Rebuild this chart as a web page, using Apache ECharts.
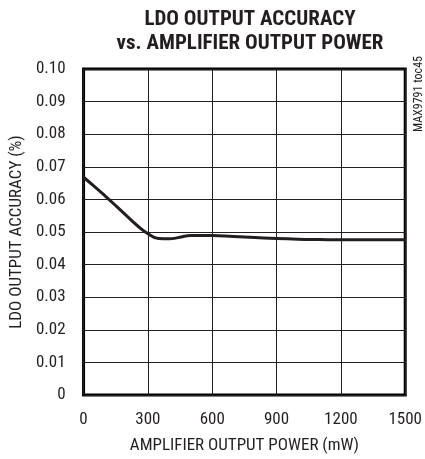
<!DOCTYPE html>
<html>
<head>
<meta charset="utf-8">
<script src="https://cdn.jsdelivr.net/npm/echarts@6/dist/echarts.min.js"></script>
<style>
html,body{margin:0;padding:0;background:#fff;}
#chart{width:425px;height:459px;}
</style>
</head>
<body>
<div id="chart"></div>
<script>
const titleLines = ["LDO OUTPUT ACCURACY", "vs. AMPLIFIER OUTPUT POWER"];
const xAxisName = "AMPLIFIER OUTPUT POWER (mW)";
const yAxisName = "LDO OUTPUT ACCURACY (%)";
const sideNote = "MAX9791 toc45";
const powerMW = [0, 50, 100, 150, 200, 250, 300, 350, 400, 450, 500, 600, 700, 800, 900, 1000, 1100, 1200, 1350, 1500];
const accuracyPct = [0.0668, 0.0640, 0.0611, 0.0581, 0.0550, 0.0520, 0.0495, 0.0480, 0.0479, 0.0484, 0.0489, 0.0489, 0.0486, 0.0483, 0.0480, 0.0478, 0.0477, 0.0476, 0.0476, 0.0476];
const xTicks = ["0", "300", "600", "900", "1200", "1500"];
const yTicks = ["0", "0.01", "0.02", "0.03", "0.04", "0.05", "0.06", "0.07", "0.08", "0.09", "0.10"];

const FONT = '"Roboto Condensed", "DejaVu Sans Condensed", "Liberation Sans", sans-serif';
const INK = '#231f20';
const chart = echarts.init(document.getElementById('chart'), null, {renderer: 'canvas'});
chart.setOption({
  animation: false,
  backgroundColor: '#fff',
  title: {
    text: titleLines.join('\n'),
    left: 245, top: 3, textAlign: 'center',
    textStyle: {fontFamily: FONT, fontWeight: 'bold', fontSize: 21, lineHeight: 24, color: INK}
  },
  grid: {left: 83, top: 69, right: 13, bottom: 62, containLabel: false, show: true, borderColor: '#000', borderWidth: 3},
  xAxis: {
    type: 'value', min: 0, max: 1500, interval: 300,
    name: xAxisName, nameLocation: 'middle', nameGap: 42,
    nameTextStyle: {fontFamily: FONT, fontSize: 17, color: INK},
    axisLine: {show: false},
    axisTick: {show: false},
    axisLabel: {fontFamily: FONT, fontSize: 17, color: INK, margin: 16,
      formatter: function (v) { return xTicks[Math.round(v / 300)]; }},
    splitLine: {show: true, lineStyle: {color: INK, width: 1}}
  },
  yAxis: {
    type: 'value', min: 0, max: 0.1, interval: 0.01,
    name: yAxisName, nameLocation: 'middle', nameGap: 57, nameRotate: 90,
    nameTextStyle: {fontFamily: FONT, fontSize: 17, color: INK},
    axisLine: {show: false},
    axisTick: {show: false},
    axisLabel: {fontFamily: FONT, fontSize: 17, color: INK, margin: 18,
      formatter: function (v) { return yTicks[Math.round(v * 100)]; }},
    splitLine: {show: true, lineStyle: {color: INK, width: 1}}
  },
  graphic: [{
    type: 'text', x: 419, y: 94, rotation: Math.PI / 2,
    style: {text: sideNote, fontFamily: FONT, fontSize: 12, fill: INK, align: 'center', verticalAlign: 'middle'}
  }],
  series: [{
    type: 'line',
    data: powerMW.map((x, i) => [x, accuracyPct[i]]),
    smooth: 0.5, showSymbol: false,
    lineStyle: {color: INK, width: 3}
  }]
});
</script>
</body>
</html>
